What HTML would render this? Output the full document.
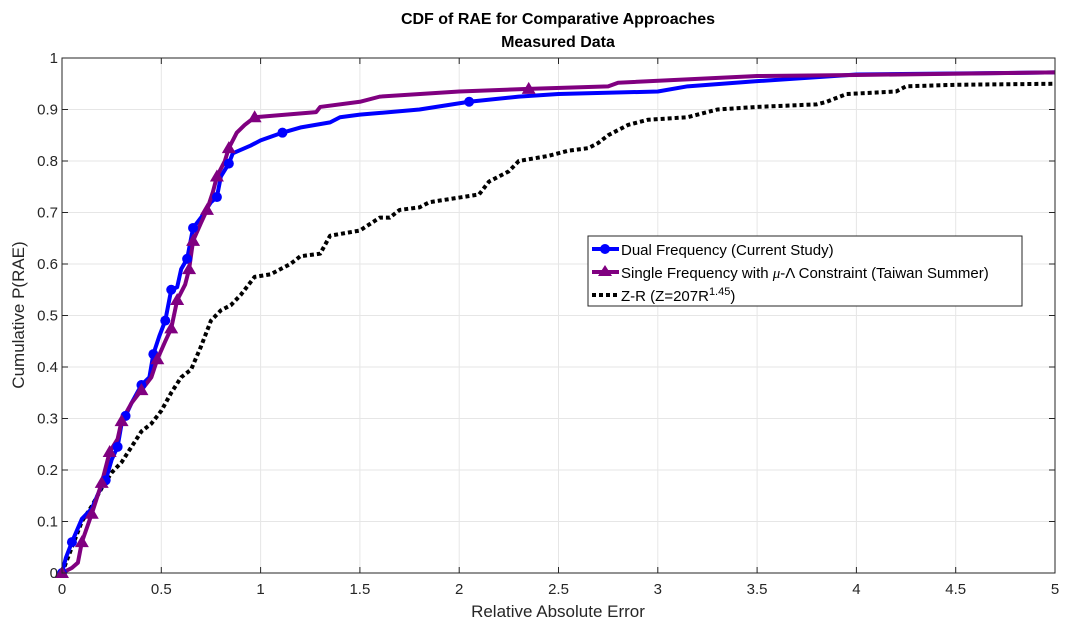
<!DOCTYPE html>
<html><head><meta charset="utf-8"><style>
body{margin:0;background:#fff;}
svg{display:block;font-family:"Liberation Sans",sans-serif;}
</style></head><body>
<svg id="chart" width="1069" height="631" viewBox="0 0 1069 631" xmlns="http://www.w3.org/2000/svg">
<rect width="1069" height="631" fill="#fff"/>
<text x="558" y="24" text-anchor="middle" font-size="16" font-weight="bold" fill="#000">CDF of RAE for Comparative Approaches</text>
<text x="558" y="47" text-anchor="middle" font-size="16" font-weight="bold" fill="#000">Measured Data</text>
<g id="grid"></g><g id="series"></g><g id="axes"></g>
<text x="558" y="617" text-anchor="middle" font-size="17" fill="#262626">Relative Absolute Error</text>
<text transform="translate(24,315) rotate(-90)" text-anchor="middle" font-size="17" fill="#262626">Cumulative P(RAE)</text>
<g>
<rect x="588" y="236" width="434" height="70" fill="#fff" stroke="#262626" stroke-width="1"/>
<line x1="592" y1="249" x2="619" y2="249" stroke="#0000ff" stroke-width="4"/><circle cx="605" cy="249" r="5" fill="#0000ff"/>
<text x="621" y="255" font-size="15" fill="#000">Dual Frequency (Current Study)</text>
<line x1="592" y1="272" x2="619" y2="272" stroke="#800080" stroke-width="4"/><polygon points="605,265 612,276 598,276" fill="#800080"/>
<text x="621" y="278" font-size="15" fill="#000">Single Frequency with <tspan font-family="Liberation Serif" font-style="italic">μ</tspan>-Λ Constraint (Taiwan Summer)</text>
<line x1="592" y1="295" x2="619" y2="295" stroke="#000" stroke-width="4" stroke-dasharray="4,3"/>
<text x="621" y="301" font-size="15" fill="#000">Z-R (Z=207R<tspan font-size="11" dy="-6">1.45</tspan><tspan dy="6">)</tspan></text>
</g>
</svg>
<script>
const xTicks=[0,0.5,1,1.5,2,2.5,3,3.5,4,4.5,5];
const yTicks=[0,0.1,0.2,0.3,0.4,0.5,0.6,0.7,0.8,0.9,1];
const dualX=[0,0.02,0.05,0.1,0.15,0.2,0.22,0.25,0.28,0.3,0.32,0.35,0.4,0.44,0.46,0.49,0.52,0.55,0.58,0.6,0.63,0.66,0.7,0.75,0.78,0.8,0.84,0.86,0.95,1.0,1.11,1.2,1.35,1.4,1.5,1.8,2.05,2.3,2.5,3,3.15,3.5,4,5];
const dualY=[0,0.03,0.06,0.105,0.125,0.17,0.18,0.22,0.245,0.29,0.305,0.33,0.365,0.38,0.425,0.46,0.49,0.55,0.555,0.59,0.61,0.67,0.69,0.72,0.73,0.77,0.795,0.815,0.83,0.84,0.855,0.865,0.875,0.885,0.89,0.9,0.915,0.925,0.93,0.935,0.945,0.955,0.968,0.972];
const dualMarkers=[0,2,6,8,10,12,14,16,17,20,21,24,26,30,36];
const singleX=[0,0.05,0.08,0.1,0.15,0.2,0.24,0.28,0.3,0.35,0.4,0.45,0.48,0.52,0.55,0.58,0.62,0.64,0.66,0.7,0.73,0.76,0.78,0.82,0.84,0.88,0.92,0.97,1.28,1.3,1.5,1.6,2,2.35,2.75,2.8,3.5,4,5];
const singleY=[0,0.01,0.02,0.06,0.115,0.175,0.235,0.26,0.295,0.33,0.355,0.38,0.415,0.45,0.475,0.53,0.56,0.59,0.645,0.68,0.705,0.74,0.77,0.8,0.825,0.855,0.87,0.885,0.895,0.905,0.915,0.925,0.935,0.94,0.945,0.952,0.965,0.967,0.972];
const singleMarkers=[0,3,4,5,6,8,10,12,14,15,17,18,20,22,24,27,33];
const zrX=[0,0.05,0.1,0.15,0.2,0.25,0.3,0.35,0.4,0.45,0.5,0.55,0.6,0.65,0.7,0.75,0.8,0.85,0.9,0.97,1.05,1.15,1.2,1.3,1.35,1.5,1.6,1.65,1.7,1.8,1.85,2.1,2.15,2.25,2.3,2.45,2.55,2.65,2.7,2.75,2.85,2.95,3.15,3.3,3.5,3.8,3.85,3.95,4.2,4.25,4.5,5];
const zrY=[0,0.05,0.1,0.13,0.165,0.195,0.215,0.245,0.275,0.29,0.315,0.35,0.38,0.395,0.44,0.49,0.51,0.52,0.54,0.575,0.58,0.6,0.615,0.62,0.655,0.665,0.69,0.69,0.705,0.71,0.72,0.735,0.76,0.78,0.8,0.81,0.82,0.825,0.835,0.85,0.87,0.88,0.885,0.9,0.905,0.91,0.915,0.93,0.935,0.945,0.948,0.95];
const L=62,R=1055,T=58,B=573,NS="http://www.w3.org/2000/svg";
const sx=v=>L+(v-0)/5*(R-L), sy=v=>B-v*(B-T);
function mk(tag,attrs,parent){const e=document.createElementNS(NS,tag);for(const k in attrs)e.setAttribute(k,attrs[k]);parent.appendChild(e);return e;}
const grid=document.getElementById('grid'),axes=document.getElementById('axes'),ser=document.getElementById('series');
xTicks.forEach(t=>{const l=mk('line',{x1:sx(t),x2:sx(t),y1:T,y2:B,stroke:'#e6e6e6','stroke-width':1},grid);


const tx=mk('text',{x:sx(t),y:B+21,'text-anchor':'middle','font-size':15,fill:'#262626'},axes);tx.textContent=t;


mk('line',{x1:sx(t),x2:sx(t),y1:B,y2:B-6,stroke:'#262626'},axes);mk('line',{x1:sx(t),x2:sx(t),y1:T,y2:T+6,stroke:'#262626'},axes);});
yTicks.forEach(t=>{const l=mk('line',{x1:L,x2:R,y1:sy(t),y2:sy(t),stroke:'#e6e6e6','stroke-width':1},grid);


const tx=mk('text',{x:L-4,y:sy(t)+5,'text-anchor':'end','font-size':15,fill:'#262626'},axes);tx.textContent=t;


mk('line',{x1:L,x2:L+6,y1:sy(t),y2:sy(t),stroke:'#262626'},axes);mk('line',{x1:R,x2:R-6,y1:sy(t),y2:sy(t),stroke:'#262626'},axes);});
const box=mk('rect',{x:L,y:T,width:R-L,height:B-T,fill:'none',stroke:'#262626','stroke-width':1},axes);


function line(xs,ys,color,dash,name){const p=mk('polyline',{points:xs.map((x,i)=>sx(x)+','+sy(ys[i])).join(' '),fill:'none',stroke:color,'stroke-width':4,'stroke-linejoin':'round'},ser);if(dash)p.setAttribute('stroke-dasharray',dash);

}
line(zrX,zrY,'#000','4,3','zr-line');
line(dualX,dualY,'#0000ff',null,'dual-frequency-line');
line(singleX,singleY,'#800080',null,'single-frequency-line');
dualMarkers.forEach(i=>{const c=mk('circle',{cx:sx(dualX[i]),cy:sy(dualY[i]),r:5,fill:'#0000ff'},ser);

});
singleMarkers.forEach(i=>{const x=sx(singleX[i]),y=sy(singleY[i]);const p=mk('polygon',{points:`${x},${y-7} ${x+7},${y+5} ${x-7},${y+5}`,fill:'#800080'},ser);

});
</script>
</body></html>
